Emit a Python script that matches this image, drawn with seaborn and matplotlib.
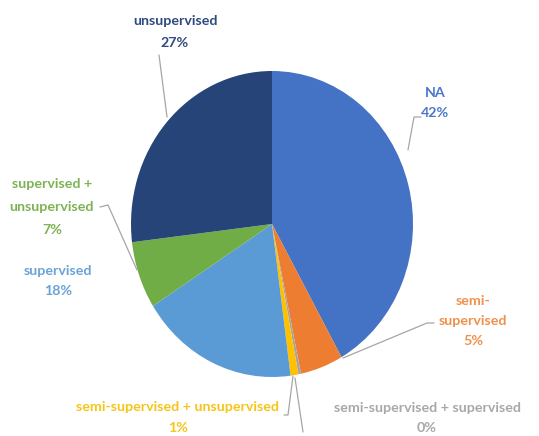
import matplotlib
matplotlib.use("Agg")
import matplotlib.pyplot as plt
import seaborn as sns

categories = ["NA", "semi-supervised", "semi-supervised + supervised",
              "semi-supervised + unsupervised", "supervised",
              "supervised + unsupervised", "unsupervised"]
values = [41.8, 4.9, 0.3, 0.9, 18.1, 7.1, 26.9]
pct_labels = ["42%", "5%", "0%", "1%", "18%", "7%", "27%"]
label_texts = ["NA", "semi-\nsupervised", "semi-supervised + supervised",
               "semi-supervised + unsupervised", "supervised",
               "supervised +\nunsupervised", "unsupervised"]
slice_colors = ["#4472C4", "#ED7D31", "#A5A5A5", "#FFC000", "#5B9BD5", "#70AD47", "#264478"]
text_colors = ["#4A78C8", "#F0904E", "#A8A8A8", "#F5C518", "#6AA3D8", "#7DB353", "#2E4A7E"]

sns.set_theme(style="white")
plt.rcParams['font.family'] = ['Lato', 'DejaVu Sans']

W, H = 539, 436
fig = plt.figure(figsize=(W / 100, H / 100), dpi=100)
ax = fig.add_axes([0, 0, 1, 1])

cx, cy, rx, ry = 272, 224, 141, 153

def px(x, y):
    return ((x - cx) / rx, (cy - y) / ry)

wedges, _ = ax.pie(values, colors=slice_colors, startangle=90, counterclock=False,
                   wedgeprops=dict(linewidth=0))
ax.set_aspect('auto')
ax.set_xlim(px(0, 0)[0], px(W, 0)[0])
ax.set_ylim(px(0, H)[1], px(0, 0)[1])
ax.axis('off')

# (center x, top line center y, line spacing) in pixels
label_pos = [(435, 93, 20), (473, 301, 20), (427, 408, 21), (178, 407, 22),
             (58, 271, 20), (52, 184, 23), (175, 21, 22)]

for i, txt in enumerate(label_texts):
    lines = txt.split("\n") + [pct_labels[i]]
    x0, y0, sp = label_pos[i]
    for j, line in enumerate(lines):
        yy = min(y0 + j * sp, 428)
        ax.text(*px(x0, yy), line, ha='center', va='center', fontsize=10.3,
                fontweight='bold', color=text_colors[i])

leaders = [
    [(421, 117), (414, 117), (408, 150)],
    [(434, 323), (427, 323), (343, 358)],
    [(303, 432), (295, 378)],
    [(284, 415), (288, 415), (293, 376)],
    [(100, 207), (108, 205), (137, 270)],
    [(159, 55), (167, 117)],
]
for pts in leaders:
    xs, ys = zip(*[px(*p) for p in pts])
    ax.plot(xs, ys, color="#A6A6A6", linewidth=0.9)

fig.savefig("out.png", dpi=100)
